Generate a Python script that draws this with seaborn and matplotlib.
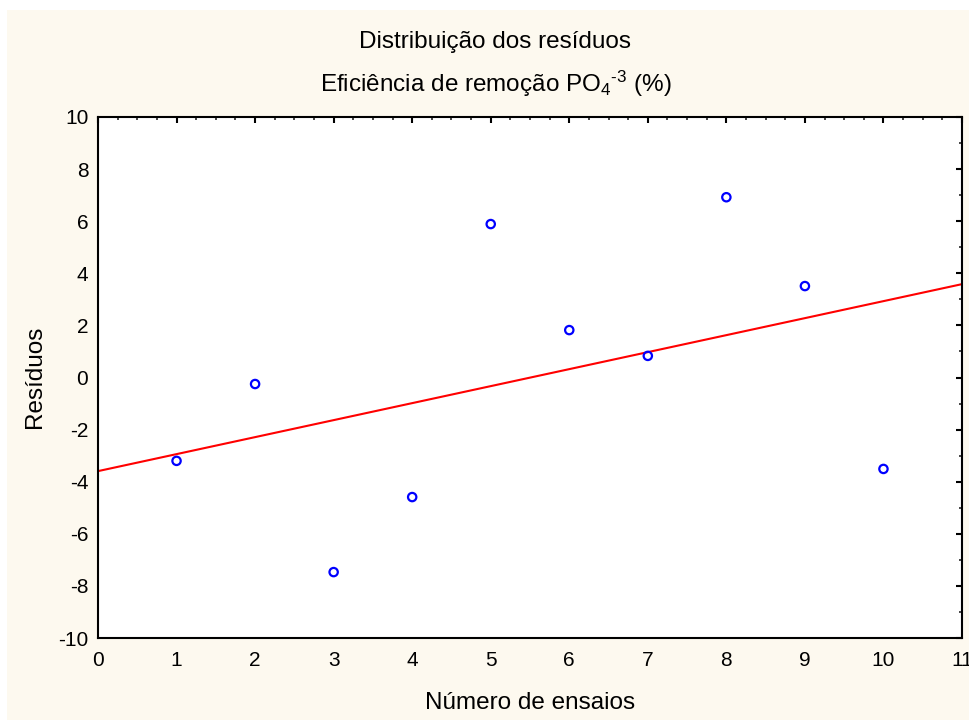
import numpy as np
import pandas as pd
import matplotlib
matplotlib.use("Agg")
import matplotlib.pyplot as plt
from matplotlib.patches import Rectangle
from matplotlib.ticker import MultipleLocator
import seaborn as sns

# Data
ensaios = [1, 2, 3, 4, 5, 6, 7, 8, 9, 10]
residuos = [-3.2, -0.25, -7.47, -4.59, 5.89, 1.82, 0.83, 6.92, 3.51, -3.51]
x_ticks = list(range(0, 12))
y_ticks = list(range(-10, 11, 2))

title1 = "Distribuição dos resíduos"
title2 = r"Eficiência de remoção PO$_4$$^{\text{-}3}$ (%)"
xlabel = "Número de ensaios"
ylabel = "Resíduos"

sns.set_theme(style="white")
plt.rcParams['font.family'] = ['Liberation Sans', 'DejaVu Sans']
plt.rcParams['mathtext.fontset'] = 'custom'
plt.rcParams['mathtext.rm'] = 'Liberation Sans'
plt.rcParams['mathtext.it'] = 'Liberation Sans'
plt.rcParams['mathtext.default'] = 'regular'
plt.rcParams['axes.unicode_minus'] = False

df = pd.DataFrame({"ensaio": ensaios, "residuo": residuos})

fig = plt.figure(figsize=(9.7, 7.2), dpi=100, facecolor='white')
bg = Rectangle((7/970, 0), 1 - 7/970, 1 - 10/720, transform=fig.transFigure,
               facecolor='#fdf9ef', edgecolor='none', zorder=-10)
fig.patches.append(bg)

ax = fig.add_axes([98/970, 1 - 638/720, (962 - 98)/970, (638 - 117)/720])
ax.set_facecolor('white')
ax.set_xlim(0, 11)
ax.set_ylim(-10, 10)

sns.regplot(data=df, x="ensaio", y="residuo", ax=ax, ci=None, truncate=False,
            scatter_kws=dict(marker='o', s=36, facecolors='none', alpha=1,
                             edgecolors='#0000ff', linewidths=1.6, zorder=3),
            line_kws=dict(color='#ff0000', lw=1.5, zorder=2))
ax.set_xlim(0, 11)
ax.set_ylim(-10, 10)

ax.set_xticks(x_ticks)
ax.set_yticks(y_ticks)
ax.xaxis.set_minor_locator(MultipleLocator(0.25))
ax.yaxis.set_minor_locator(MultipleLocator(1))
ax.tick_params(axis='both', which='major', direction='in', length=4, width=1.5,
               top=True, right=True, labelsize=15, colors='black')
ax.tick_params(axis='x', which='major', pad=9)
ax.tick_params(axis='y', which='major', pad=7)
ax.tick_params(axis='both', which='minor', direction='in', length=2.5, width=1.2,
               top=True, right=True)
for s in ax.spines.values():
    s.set_visible(True)
    s.set_color('black')
    s.set_linewidth(1.5)

ax.set_xlabel("")
ax.set_ylabel("")
fs = 17.5
fig.text(530/970, 1 - 703/720, xlabel, ha='center', va='center', fontsize=fs, color='black')
fig.text(35/970, 1 - 377/720, ylabel, ha='center', va='center', rotation=90, fontsize=fs, color='black')
fig.text(495/970, 1 - 42/720, title1, ha='center', va='center', fontsize=fs, color='black')
fig.text(496/970, 1 - 84/720, title2, ha='center', va='center', fontsize=fs, color='black')

fig.savefig("out.png", dpi=100, facecolor=fig.get_facecolor())
